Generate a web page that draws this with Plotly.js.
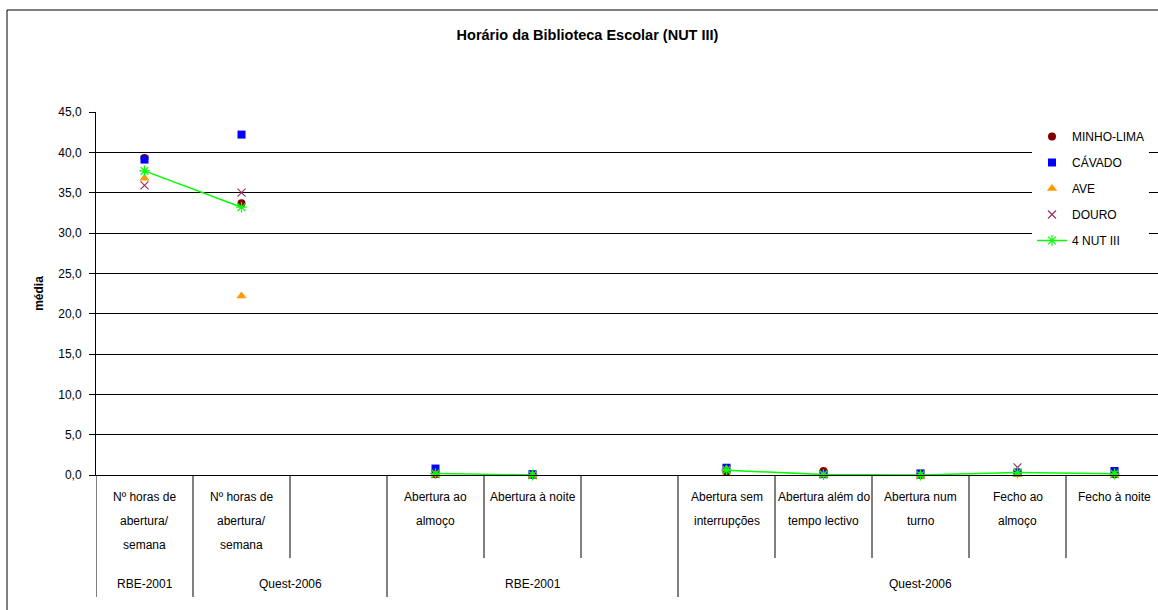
<!DOCTYPE html>
<html>
<head>
<meta charset="utf-8">
<script src="https://cdn.plot.ly/plotly-3.0.1.min.js"></script>
<style>
html,body{margin:0;padding:0;overflow:hidden;background:#fff;}
#chart{width:1170px;height:640px;}
</style>
</head>
<body>
<div id="chart"></div>
<script>
// ---- data ----
const groups = ["RBE-2001","Quest-2006","Quest-2006","RBE-2001","RBE-2001","RBE-2001","Quest-2006","Quest-2006","Quest-2006","Quest-2006","Quest-2006"];
const labelLines = [
  ["Nº horas de","abertura/","semana"],
  ["Nº horas de","abertura/","semana"],
  [],
  ["Abertura ao","almoço"],
  ["Abertura à noite"],
  [],
  ["Abertura sem","interrupções"],
  ["Abertura além do","tempo lectivo"],
  ["Abertura num","turno"],
  ["Fecho ao","almoço"],
  ["Fecho à noite"]
];
const categories = groups.map((g,i)=> g + " | " + (labelLines[i].join(" ") || "—"));

const minhoLima = [39.3, 33.7, null, 0.1, 0.0, null, 0.4, 0.5, 0.0, 0.3, 0.1];
const cavado    = [39.1, 42.2, null, 0.8, 0.1, null, 0.9, 0.1, 0.2, 0.3, 0.5];
const ave       = [36.8, 22.2, null, 0.1, 0.0, null, 0.7, 0.0, 0.0, 0.05, 0.1];
const douro     = [35.9, 35.0, null, 0.1, 0.0, null, 0.7, 0.1, 0.0, 0.95, 0.1];
const nut4      = [37.7, 33.2, null, 0.2, 0.0, null, 0.6, 0.05, 0.0, 0.3, 0.15];

const seriesNames = ["MINHO-LIMA","CÁVADO","AVE","DOURO","4 NUT III"];
const yTitle = "média";
const chartTitle = "Horário da Biblioteca Escolar (NUT III)";

// ---- layout constants ----
const W = 1170, H = 640, L = 96, R = 7, T = 112, B = 165;
const plotH = H - T - B;
const FONT = "Liberation Sans, Arial, sans-serif";
const pyToPaper = py => (H - B - py) / plotH;

function sc(name, y, symbol, color, size, lineW, mode, group){
  const t = {
    type:'scatter', mode: mode || 'markers', name, x: categories, y,
    legendgroup: group, cliponaxis:false, connectgaps:false,
    marker:{symbol, color, size, line:{color, width: lineW||0}}
  };
  if (mode === 'lines+markers') t.line = {color, width:1.5};
  return t;
}

const data = [
  sc(seriesNames[0], minhoLima, 'circle', '#800000', 8, 0, 'markers', 'g1'),
  sc(seriesNames[1], cavado, 'square', '#0000FF', 8, 0, 'markers', 'g2'),
  sc(seriesNames[2], ave, 'triangle-up', '#FF9900', 9, 0, 'markers', 'g3'),
  sc(seriesNames[3], douro, 'x-thin-open', '#993366', 8, 1.2, 'markers', 'g4'),
  sc(seriesNames[4], nut4, 'asterisk-open', '#00FF00', 9, 1.2, 'lines+markers', 'g5')
];

// annotations: category labels (one per line) and group labels
const annotations = [];
labelLines.forEach((lines,i)=>{
  lines.forEach((txt,k)=>{
    annotations.push({xref:'x', yref:'paper', x:i, y:pyToPaper(497 + 24*k),
      text:txt, showarrow:false, xanchor:'center', yanchor:'middle',
      font:{family:FONT, size:12, color:'#000'}});
  });
});
// group runs
const runs = [];
groups.forEach((g,i)=>{
  if (!runs.length || runs[runs.length-1].g !== g) runs.push({g, start:i, end:i});
  else runs[runs.length-1].end = i;
});
runs.forEach(r=>{
  annotations.push({xref:'x', yref:'paper', x:(r.start + r.end)/2, y:pyToPaper(584),
    text:r.g, showarrow:false, xanchor:'center', yanchor:'middle',
    font:{family:FONT, size:12, color:'#000'}});
});

// divider lines
const shapes = [];
const groupBounds = new Set(runs.map(r=>r.start - 0.5).concat([runs[runs.length-1].end + 0.5]));
for (let b = -0.5; b <= categories.length - 0.5; b += 1) {
  const isGroup = groupBounds.has(b);
  shapes.push({type:'line', xref:'x', yref:'paper', x0:b, x1:b, y0:0,
    y1: pyToPaper(isGroup ? 597 : 558), line:{color:'#000', width:1}});
}
// outer chart border
shapes.push({type:'rect', xref:'paper', yref:'paper',
  x0:(7 - L)/(W - L - R), x1:(W + 20 - L)/(W - L - R),
  y0:pyToPaper(H + 20), y1:pyToPaper(10), line:{color:'#000', width:1}, fillcolor:'rgba(0,0,0,0)'});

const layout = {
  width:W, height:H,
  margin:{l:L, r:R, t:T, b:B},
  paper_bgcolor:'#fff', plot_bgcolor:'#fff',
  separators:',.',
  font:{family:FONT, size:12, color:'#000'},
  title:{text:chartTitle, xref:'container', yref:'container', x:587.5/W, y:1 - 35/H,
    xanchor:'center', yanchor:'middle', font:{family:FONT, size:14.5, weight:'bold', color:'#000'}},
  xaxis:{type:'category', range:[-0.5, categories.length - 0.5], showline:true, linecolor:'#000', linewidth:1,
    showgrid:false, zeroline:false, ticks:'', showticklabels:false, fixedrange:true},
  yaxis:{range:[0,45], dtick:5, tick0:0, tickformat:'.1f', showline:true, linecolor:'#000', linewidth:1,
    ticks:'outside', ticklen:6, tickcolor:'#000', ticklabelstandoff:5,
    showgrid:true, gridcolor:'#000', gridwidth:1, zeroline:false,
    tickfont:{family:FONT, size:12, color:'#000'},
    title:{text:yTitle, standoff:12, font:{family:FONT, size:12, weight:'bold', color:'#000'}}, fixedrange:true},
  showlegend:true,
  legend:{x:(1032 - L)/(W - L - R), y:pyToPaper(122), xanchor:'left', yanchor:'top',
    bgcolor:'#fff', borderwidth:0, traceorder:'grouped', tracegroupgap:7,
    font:{family:FONT, size:12, color:'#000'}},
  annotations, shapes
};

Plotly.newPlot('chart', data, layout, {displayModeBar:false, staticPlot:true});
</script>
</body>
</html>
